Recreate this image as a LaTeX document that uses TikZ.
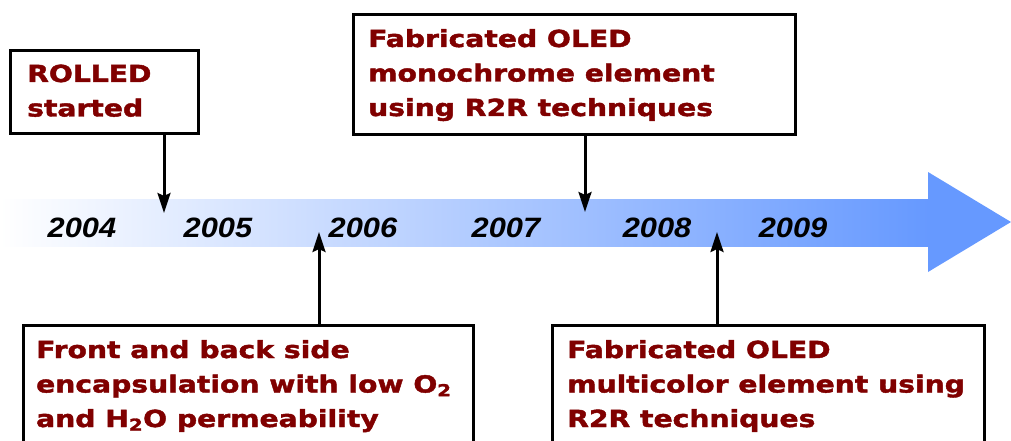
\documentclass[tikz,border=0pt]{standalone}
\usepackage{fontspec}
\usetikzlibrary{arrows.meta}
\newfontfamily\boxfont[FakeStretch=1.2,FakeBold=1.8]{DejaVu Sans Bold}
\newfontfamily\yearfont[FakeStretch=1.1]{Liberation Sans Bold Italic}
\definecolor{txtred}{RGB}{128,0,0}
\definecolor{bandblue}{RGB}{102,153,255}
\tikzset{
  box/.style={draw=black, line width=3pt, fill=white, rectangle, inner sep=0pt, anchor=north west},
  lbl/.style={text=txtred, inner sep=0pt, anchor=base west, font=\boxfont\fontsize{23.5}{34.5}\selectfont},
  year/.style={text=black, inner sep=0pt, anchor=base, font=\yearfont\fontsize{28}{30}\selectfont},
  conn/.style={draw=black, line width=3pt, -{Stealth[length=20pt,width=13pt,inset=3pt]}}
}
\begin{document}
\begin{tikzpicture}[x=1pt,y=-1pt]
\path[use as bounding box] (0,0) rectangle (1011,441);
\clip (0,0) rectangle (1011,441);
% timeline arrow
\shade[left color=white, right color=bandblue, shading angle=90]
  (0,199) rectangle (929,246);
\fill[bandblue] (928,172) -- (1011,222) -- (928,272) -- cycle;
% years
\node[year] (y2004) at (82,237) {2004};
\node[year] (y2005) at (218,237) {2005};
\node[year] (y2006) at (363,237) {2006};
\node[year] (y2007) at (506,237) {2007};
\node[year] (y2008) at (657,237) {2008};
\node[year] (y2009) at (793,237) {2009};
% boxes
\node[box, minimum width=188pt, minimum height=83pt] (rolled) at (9,49) {};
\node[box, minimum width=442pt, minimum height=120pt] (mono) at (352,13) {};
\node[box, minimum width=450pt, minimum height=140pt] (encap) at (22,324) {};
\node[box, minimum width=432pt, minimum height=140pt] (multi) at (551,324) {};
% texts
\node[lbl] (rolledtxt) at (27,82) {\begin{tabular}[t]{@{}l@{}}ROLLED\\started\end{tabular}};
\node[lbl] (monotxt) at (368,47) {\begin{tabular}[t]{@{}l@{}}Fabricated OLED\\monochrome element\\using R2R techniques\end{tabular}};
\node[lbl] (encaptxt) at (36,358) {\begin{tabular}[t]{@{}l@{}}Front and back side\\encapsulation with low O\textsubscript{2}\\and H\textsubscript{2}O permeability\end{tabular}};
\node[lbl] (multitxt) at (567,358) {\begin{tabular}[t]{@{}l@{}}Fabricated OLED\\multicolor element using\\R2R techniques\end{tabular}};
% connector end points on the timeline
\coordinate (t1) at (164,213);
\coordinate (t2) at (585,212);
\coordinate (t3) at (319,232);
\coordinate (t4) at (717,232);
\draw[conn] (rolled.south -| t1) -- (t1);
\draw[conn] (mono.south -| t2) -- (t2);
\draw[conn] (encap.north -| t3) -- (t3);
\draw[conn] (multi.north -| t4) -- (t4);
\end{tikzpicture}
\end{document}
